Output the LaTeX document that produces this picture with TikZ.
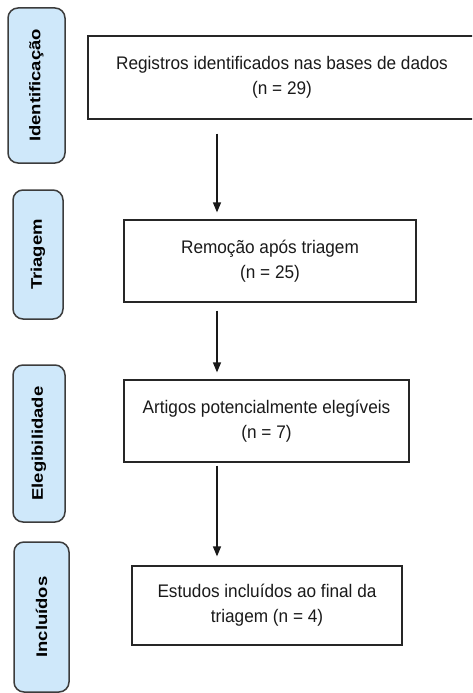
\documentclass[tikz,border=0pt]{standalone}
\usepackage{fontspec}
\setmainfont{Liberation Sans}[FakeStretch=0.945]
\newfontfamily\sidefont{Liberation Sans}[FakeStretch=1.2]
\usetikzlibrary{arrows.meta}
\definecolor{sidefill}{HTML}{CFE8FA}
\definecolor{sideline}{HTML}{3C3C3C}
\definecolor{txt}{HTML}{1A1A1A}
\tikzset{
  sidebox/.style={draw=sideline, line width=1.5pt, fill=sidefill, rounded corners=10pt,
    inner sep=0pt},
  sidelabel/.style={rotate=90, text=black, font=\sidefont\bfseries\fontsize{15.4}{18}\selectfont, inner sep=0pt},
  mainbox/.style={draw=black!85, line width=1.2pt, fill=white, inner sep=0pt, align=center,
    text=txt, font=\fontsize{18.2}{25}\selectfont},
  arr/.style={draw=black!90, line width=1.3pt, -{Triangle[length=10pt,width=8pt]}}
}
\begin{document}
\begin{tikzpicture}[x=1pt,y=-1pt]
\useasboundingbox (0,0) rectangle (472,693);
\clip (0,0) rectangle (472,693);
% side labels
\node[sidebox, minimum width=57pt, minimum height=155pt] (s1) at (36.5,85.5) {};
\node[sidelabel] (l1) at (s1.center) {Identificação};
\node[sidebox, minimum width=50pt, minimum height=129pt] (s2) at (38,254.5) {};
\node[sidelabel] (l2) at (s2.center) {Triagem};
\node[sidebox, minimum width=52pt, minimum height=157pt] (s3) at (39,443.5) {};
\node[sidelabel] (l3) at (s3.center) {Elegibilidade};
\node[sidebox, minimum width=55pt, minimum height=150pt] (s4) at (41.5,617) {};
\node[sidelabel] (l4) at (s4.center) {Incluídos};
% main boxes
\node[mainbox, minimum width=388pt, minimum height=83pt] (b1) at (282,77.5)
  {Registros identificados nas bases de dados\\(n = 29)};
\node[mainbox, minimum width=292pt, minimum height=82pt] (b2) at (270,261)
  {Remoção após triagem\\(n = 25)};
\node[mainbox, minimum width=285pt, minimum height=82pt] (b3) at (266.5,421)
  {Artigos potencialmente elegíveis\\(n = 7)};
\node[mainbox, minimum width=270pt, minimum height=79pt] (b4) at (267,605.5)
  {Estudos incluídos ao final da\\triagem (n = 4)};
% arrows
\coordinate (ax) at (217,0);
\draw[arr, shorten <=14pt, shorten >=7pt] (b1.south -| ax) -- (b2.north -| ax);
\draw[arr, shorten <=8pt, shorten >=7pt] (b2.south -| ax) -- (b3.north -| ax);
\draw[arr, shorten <=3pt, shorten >=9pt] (b3.south -| ax) -- (b4.north -| ax);
\end{tikzpicture}
\end{document}
